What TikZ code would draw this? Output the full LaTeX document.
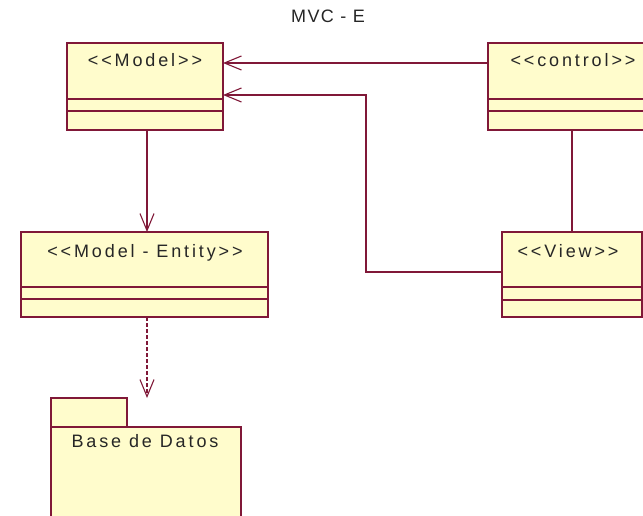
\documentclass[tikz,border=0pt]{standalone}
\usepackage{fontspec}
\setmainfont{Liberation Sans}
\newfontfamily\umlfont[LetterSpace=16]{Liberation Sans}
\newfontfamily\titlefont[LetterSpace=8]{Liberation Sans}
\usetikzlibrary{arrows.meta}

\definecolor{umlline}{RGB}{128,24,56}
\definecolor{umlfill}{RGB}{255,252,204}

\tikzset{
  classbox/.style={draw=umlline, fill=umlfill, line width=1.2pt, rectangle,
    inner sep=0pt, outer sep=0pt},
  pkgbox/.style={draw=umlline, fill=umlfill, line width=1.2pt},
  umltext/.style={anchor=base, inner sep=0pt, text=black!85,
    font=\umlfont\fontsize{18}{21}\selectfont},
  titletext/.style={umltext, font=\titlefont\fontsize{18}{21}\selectfont},
  conn/.style={draw=umlline, line width=1.2pt},
  navarrow/.style={conn, -{Straight Barb[length=17pt, width=14pt, line width=1.1pt]}},
  deparrow/.style={navarrow, dash pattern=on 4pt off 2pt}
}

\begin{document}
\begin{tikzpicture}[x=1pt, y=-1pt]
  \useasboundingbox (0,0) rectangle (643,516);
  \fill[white] (0,0) rectangle (643,516);
  \clip (0,0) rectangle (643,516);

  % title
  \node[titletext] (title) at (328,23) {MVC - E};

  % classes: body, then the two compartment lines
  \node[classbox, minimum width=156pt, minimum height=87pt] (model) at (145,86.5) {};
  \node[classbox, minimum width=170pt, minimum height=87pt] (control) at (573,86.5) {};
  \node[classbox, minimum width=247pt, minimum height=85pt] (entity) at (144.5,274.5) {};
  \node[classbox, minimum width=140pt, minimum height=85pt] (view) at (572,274.5) {};

  \foreach \c/\a/\b in {model/99/111, control/99/111, entity/287/299, view/287/300}{
    \coordinate (\c-s1) at (0,\a);
    \coordinate (\c-s2) at (0,\b);
    \draw[conn] (\c.west |- \c-s1) -- (\c.east |- \c-s1);
    \draw[conn] (\c.west |- \c-s2) -- (\c.east |- \c-s2);
  }

  \node[umltext] (model-name) at (145,67) {<<Model>>};
  \node[umltext] (control-name) at (573,67) {<<control>>};
  \node[umltext] (entity-name) at (145,257) {<<Model - Entity>>};
  \node[umltext] (view-name) at (568,258) {<<View>>};

  % package
  \draw[pkgbox] (51,398) rectangle (127,427);
  \draw[pkgbox] (51,427) rectangle (241,540);
  \coordinate (pkg) at (147,398);
  \node[umltext] (pkg-name) at (145,447) {Base de Datos};

  % connectors
  \coordinate (yA) at (0,63);
  \coordinate (yB) at (0,95);
  \coordinate (xB) at (366,0);
  \coordinate (yV) at (0,272);
  \coordinate (xM) at (147,0);
  \coordinate (xC) at (572,0);

  \draw[navarrow] (control.west |- yA) -- (model.east |- yA);
  \draw[navarrow] (view.west |- yV) -- (xB |- yV) -- (xB |- yB) -- (model.east |- yB);
  \draw[navarrow] (model.south -| xM) -- (entity.north -| xM);
  \draw[deparrow] (entity.south -| xM) -- (pkg);
  \draw[conn] (control.south -| xC) -- (view.north -| xC);
\end{tikzpicture}
\end{document}
